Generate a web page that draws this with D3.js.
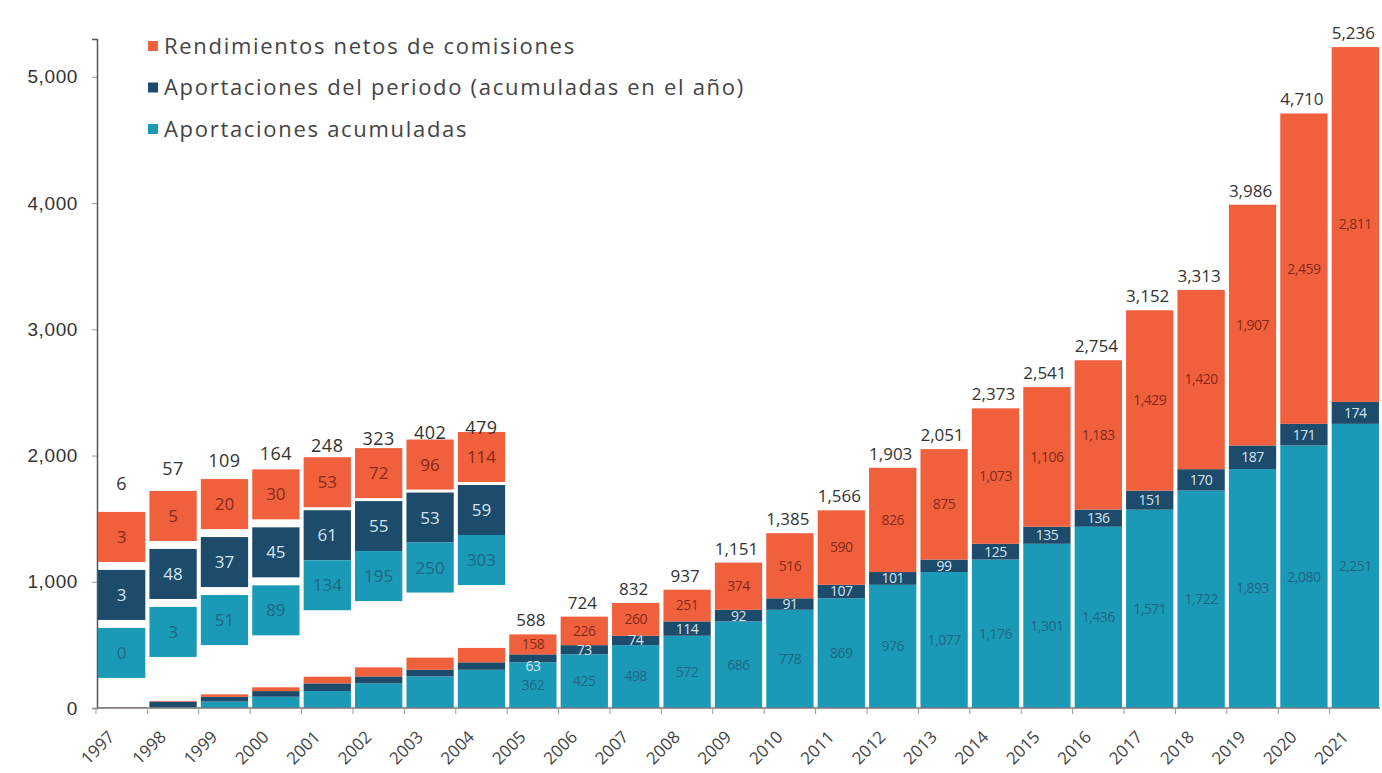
<!DOCTYPE html>
<html>
<head>
<meta charset="utf-8">
<script src="https://cdn.jsdelivr.net/npm/d3@7"></script>
<style>
	body { margin: 0; background: #fff; }
	svg { display: block; font-family: 'Open Sans', sans-serif; }
</style>
</head>
<body>
<svg width="1382" height="773"></svg>
<script>
const years = ['1997', '1998', '1999', '2000', '2001', '2002', '2003', '2004', '2005', '2006', '2007', '2008', '2009',
	'2010', '2011', '2012', '2013', '2014', '2015', '2016', '2017', '2018', '2019', '2020', '2021'];
const acumuladas = [0, 3, 51, 89, 134, 195, 250, 303, 362, 425, 498, 572, 686,
	778, 869, 976, 1077, 1176, 1301, 1436, 1571, 1722, 1893, 2080, 2251];
const periodo = [3, 48, 37, 45, 61, 55, 53, 59, 63, 73, 74, 114, 92,
	91, 107, 101, 99, 125, 135, 136, 151, 170, 187, 171, 174];
const rendimientos = [3, 5, 20, 30, 53, 72, 96, 114, 158, 226, 260, 251, 374,
	516, 590, 826, 875, 1073, 1106, 1183, 1429, 1420, 1907, 2459, 2811];
const totales = [6, 57, 109, 164, 248, 323, 402, 479, 588, 724, 832, 937, 1151,
	1385, 1566, 1903, 2051, 2373, 2541, 2754, 3152, 3313, 3986, 4710, 5236];
const seriesKeys = ['acum', 'per', 'rend'];
const legendLabels = ['Rendimientos netos de comisiones', 'Aportaciones del periodo (acumuladas en el año)', 'Aportaciones acumuladas'];
const yTicks = [0, 1000, 2000, 3000, 4000, 5000];
// the first years are too small to read, so they get a zoomed box above the bar
const zoomedYears = 8;

const colors = {acum: '#1a9ab7', per: '#1d4b6c', rend: '#f0603d'};
const textColors = {acum: '#1f6684', per: '#d3e4ee', rend: '#862a17'};

const svg = d3.select('svg');
const fmt = d3.format(',');

const rows = years.map((y, i) => ({year: y, acum: acumuladas[i], per: periodo[i], rend: rendimientos[i], total: totales[i], i: i}));
const stacked = d3.stack().keys(seriesKeys)(rows);

const x = d3.scaleBand().domain(years).range([97, 1380]).paddingInner(0.08).paddingOuter(0.02);
const y = d3.scaleLinear().domain([0, 5300]).range([708, 39]);

// y axis
const yAxis = svg.append('g')
	.attr('transform', 'translate(97,0)')
	.call(d3.axisLeft(y).tickValues(yTicks).tickFormat(fmt).tickSize(5).tickPadding(14));
yAxis.select('.domain').attr('stroke', '#555').attr('stroke-width', 1.5);
yAxis.selectAll('.tick line').attr('stroke', '#999');
yAxis.selectAll('.tick text').attr('font-size', 19).attr('letter-spacing', 0.6).attr('fill', '#333');

// bars
svg.append('g').selectAll('g')
	.data(stacked)
	.enter().append('g')
	.attr('fill', d => colors[d.key])
	.selectAll('rect')
	.data(d => d)
	.enter().append('rect')
	.attr('x', d => x(d.data.year))
	.attr('y', d => y(d[1]))
	.attr('width', x.bandwidth())
	.attr('height', d => y(d[0]) - y(d[1]));

// x axis
svg.append('line')
	.attr('x1', 97).attr('x2', 1380)
	.attr('y1', y(0)).attr('y2', y(0))
	.attr('stroke', '#777').attr('stroke-width', 1.5);
svg.append('g').selectAll('line')
	.data(years)
	.enter().append('line')
	.attr('x1', d => x(d) - x.step() * x.paddingInner() / 2)
	.attr('x2', d => x(d) - x.step() * x.paddingInner() / 2)
	.attr('y1', y(0)).attr('y2', y(0) + 6)
	.attr('stroke', '#999');
svg.append('g').selectAll('text')
	.data(years)
	.enter().append('text')
	.attr('transform', d => `translate(${x(d) + x.bandwidth() / 2 - 6},${y(0) + 30}) rotate(-45)`)
	.attr('text-anchor', 'end')
	.attr('font-size', 17)
	.attr('fill', '#444')
	.text(d => d);

// labels inside the big bars
const labelG = svg.append('g').attr('text-anchor', 'middle').attr('font-size', 14).attr('letter-spacing', -0.5);
stacked.forEach(s => {
	labelG.append('g').selectAll('text')
		.data(s.filter(d => d.data.i >= zoomedYears))
		.enter().append('text')
		.attr('x', d => x(d.data.year) + x.bandwidth() / 2)
		.attr('y', d => {
			// very thin segments get their label pushed just under the bar edge
			const h = y(d[0]) - y(d[1]);
			return h < 8.5 ? y(d[0]) + 4 : (y(d[0]) + y(d[1])) / 2;
		})
		.attr('dy', '0.35em')
		.attr('fill', textColors[s.key])
		.text(d => fmt(d.data[s.key]));
});

// totals above the big bars
svg.append('g').selectAll('text')
	.data(rows.filter(d => d.i >= zoomedYears))
	.enter().append('text')
	.attr('x', d => x(d.year) + x.bandwidth() / 2 - 2)
	.attr('y', d => y(d.total) - 8)
	.attr('text-anchor', 'middle')
	.attr('font-size', 17)
	.attr('fill', '#333')
	.text(d => fmt(d.total));

// zoomed boxes for the small years
const early = rows.filter(d => d.i < zoomedYears);
const boxTop = d3.scaleSqrt().domain([0, 479]).range([522, 432]);
const boxLabel = d3.scaleSqrt().domain([0, 479]).range([497, 434]);
const boxH = 50;

early.forEach(d => {
	const wide = d.i < 4;
	const gap1 = wide ? 8 : 3, gap2 = wide ? 8 : 0;
	const parts = [
		{key: 'rend', top: boxTop(d.total)},
		{key: 'per', top: boxTop(d.total) + boxH + gap1},
		{key: 'acum', top: boxTop(d.total) + 2 * boxH + gap1 + gap2}
	];
	const g = svg.append('g');
	g.selectAll('rect')
		.data(parts)
		.enter().append('rect')
		.attr('x', x(d.year))
		.attr('y', p => p.top)
		.attr('width', x.bandwidth())
		.attr('height', boxH)
		.attr('fill', p => colors[p.key]);
	g.selectAll('text')
		.data(parts)
		.enter().append('text')
		.attr('x', x(d.year) + x.bandwidth() / 2)
		.attr('y', p => p.top + boxH / 2)
		.attr('dy', '0.35em')
		.attr('text-anchor', 'middle')
		.attr('font-size', 17)
		.attr('fill', p => textColors[p.key])
		.text(p => fmt(d[p.key]));
	g.append('text')
		.attr('x', x(d.year) + x.bandwidth() / 2)
		.attr('y', boxLabel(d.total))
		.attr('text-anchor', 'middle')
		.attr('font-size', 18)
		.attr('letter-spacing', 0.5)
		.attr('fill', '#333')
		.text(fmt(d.total));
});

// legend
const legendKeys = ['rend', 'per', 'acum'];
const legend = svg.append('g').selectAll('g')
	.data(legendKeys)
	.enter().append('g')
	.attr('transform', (d, i) => `translate(148,${46 + i * 41.5})`);
legend.append('rect')
	.attr('x', 0).attr('y', -5)
	.attr('width', 10).attr('height', 10)
	.attr('fill', d => colors[d]);
legend.append('text')
	.attr('x', 16)
	.attr('dy', '0.35em')
	.attr('font-size', 22)
	.attr('letter-spacing', 1.7)
	.attr('fill', '#444')
	.text((d, i) => legendLabels[i]);
</script>
</body>
</html>
